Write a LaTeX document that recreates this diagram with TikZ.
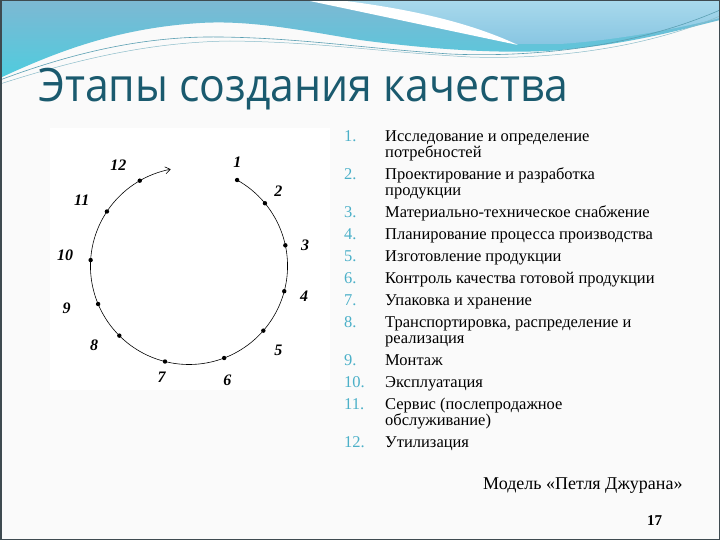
\documentclass[tikz,border=0pt]{standalone}
\usepackage{fontspec}
\setmainfont{Liberation Serif}
\newfontfamily\titlefont{Open Sans}
\usetikzlibrary{arrows.meta}
\definecolor{titlecol}{HTML}{1A5A6E}
\definecolor{numcol}{HTML}{4BB0C8}
\definecolor{bgcol}{HTML}{FAFAFA}
\definecolor{framecol}{HTML}{3E4A50}
\definecolor{bluetop}{HTML}{7DB8D3}
\definecolor{bluebot}{HTML}{4FCCDE}
\definecolor{lighttop}{HTML}{A9D9EC}
\definecolor{lightbot}{HTML}{88C6E2}
\definecolor{wavelinecol}{HTML}{5A9FB2}
\tikzset{
  lst/.style={font=\fontsize{16.5}{16.5}\selectfont, anchor=base west, inner sep=0pt},
  num/.style={lst, text=numcol},
  lbl/.style={font=\fontsize{16}{16}\selectfont\bfseries\itshape, inner sep=0pt},
  dot/.style={circle, fill=black, inner sep=0pt, minimum size=4.4pt},
}
\begin{document}
\begin{tikzpicture}[x=1pt,y=-1pt]
\useasboundingbox (0,0) rectangle (720,540);
% background
\fill[bgcol] (0,0) rectangle (720,540);
% blue band
\shade[top color=bluetop, bottom color=bluebot]
  (0,0) -- (720,0) -- (720,20)
  .. controls (680,30) and (630,44) .. (560,50)
  .. controls (500,55) and (420,48) .. (360,40)
  .. controls (300,30) and (250,20) .. (200,23)
  .. controls (120,28) and (60,50) .. (0,78) -- cycle;
% light upper right
\shade[top color=lighttop, bottom color=lightbot]
  (330,0) -- (720,0) -- (720,18)
  .. controls (680,28) and (620,40) .. (560,44)
  -- (515,44)
  .. controls (470,28) and (420,12) .. (330,0) -- cycle;
% white stripe
\fill[white]
  (305,0) -- (338,0)
  .. controls (420,10) and (475,25) .. (518,45)
  .. controls (470,35) and (400,20) .. (305,0) -- cycle;
% thin wave lines
\draw[wavelinecol, line width=0.6pt]
  (0,80) .. controls (80,50) and (150,36) .. (220,37)
  .. controls (300,38) and (360,48) .. (450,54)
  .. controls (540,58) and (640,45) .. (720,10);
\draw[wavelinecol!70, line width=0.5pt]
  (0,84) .. controls (90,55) and (160,42) .. (230,41)
  .. controls (320,42) and (380,52) .. (470,57)
  .. controls (560,60) and (650,46) .. (720,16);
% frame
\draw[framecol, line width=1.5pt] (0.75,0.75) rectangle (719.25,539.25);

% title
\node[anchor=base west, inner sep=0pt, text=titlecol,
      font=\titlefont\fontsize{46}{46}\selectfont] (title) at (38,102) {\scalebox{0.93}[1]{Этапы создания качества}};

% picture box
\fill[white] (50,128) rectangle (330,390);

% loop (quality spiral), centre (189,263)
\begin{scope}[shift={(189,263)}]
  \draw[line width=0.6pt, -{Straight Barb[length=5pt,width=7pt]}]
    plot[domain=-60:259, samples=120, smooth] (\x:{98.5+3*sin(\x)});
  \foreach \i/\a in {1/-59.9, 2/-38.2, 3/-10.4, 4/16.5, 5/42.3, 6/69.7,
                     7/103.7, 8/133.8, 9/155.7, 10/181.7, 11/212.1, 12/239.1} {
    \coordinate (p\i) at (\a:{98.5+3*sin(\a)});
    \node[dot] (d\i) at (p\i) {};
  }
\end{scope}

% loop labels
\node[lbl] (l1) at (237.3,162.7) {1};
\node[lbl] (l2) at (278.3,191.7) {2};
\node[lbl] (l3) at (305,245) {3};
\node[lbl] (l4) at (304,296) {4};
\node[lbl] (l5) at (278.3,350) {5};
\node[lbl] (l6) at (227.3,380) {6};
\node[lbl] (l7) at (161.7,377.7) {7};
\node[lbl] (l8) at (94,345) {8};
\node[lbl] (l9) at (66.7,308.3) {9};
\node[lbl] (l10) at (65,255) {10};
\node[lbl] (l11) at (81.7,200) {11};
\node[lbl] (l12) at (118.3,165) {12};

% list
\node[num] (n1) at (344,141.7) {1.};
\node[lst] (t1a) at (385,141.7) {Исследование и определение};
\node[lst] (t1b) at (385,157.7) {потребностей};
\node[num] (n2) at (344,179.7) {2.};
\node[lst] (t2a) at (385,179.7) {Проектирование и разработка};
\node[lst] (t2b) at (385,195.7) {продукции};
\node[num] (n3) at (344,217.7) {3.};
\node[lst] (t3) at (385,217.7) {Материально-техническое снабжение};
\node[num] (n4) at (344,239.7) {4.};
\node[lst] (t4) at (385,239.7) {Планирование процесса производства};
\node[num] (n5) at (344,261.7) {5.};
\node[lst] (t5) at (385,261.7) {Изготовление продукции};
\node[num] (n6) at (344,283.7) {6.};
\node[lst] (t6) at (385,283.7) {Контроль качества готовой продукции};
\node[num] (n7) at (344,305.7) {7.};
\node[lst] (t7) at (385,305.7) {Упаковка и хранение};
\node[num] (n8) at (344,327.7) {8.};
\node[lst] (t8a) at (385,327.7) {Транспортировка, распределение и};
\node[lst] (t8b) at (385,343.7) {реализация};
\node[num] (n9) at (344,365.7) {9.};
\node[lst] (t9) at (385,365.7) {Монтаж};
\node[num] (n10) at (344,387.7) {10.};
\node[lst] (t10) at (385,387.7) {Эксплуатация};
\node[num] (n11) at (344,409.7) {11.};
\node[lst] (t11a) at (385,409.7) {Сервис (послепродажное};
\node[lst] (t11b) at (385,425.7) {обслуживание)};
\node[num] (n12) at (344,447.7) {12.};
\node[lst] (t12) at (385,447.7) {Утилизация};

% caption and page number
\node[anchor=base west, inner sep=0pt, font=\fontsize{18}{18}\selectfont] (cap) at (483,489) {Модель «Петля Джурана»};
\node[anchor=base west, inner sep=0pt, font=\fontsize{15}{15}\selectfont\bfseries] (pg) at (647,525) {17};
\end{tikzpicture}
\end{document}
